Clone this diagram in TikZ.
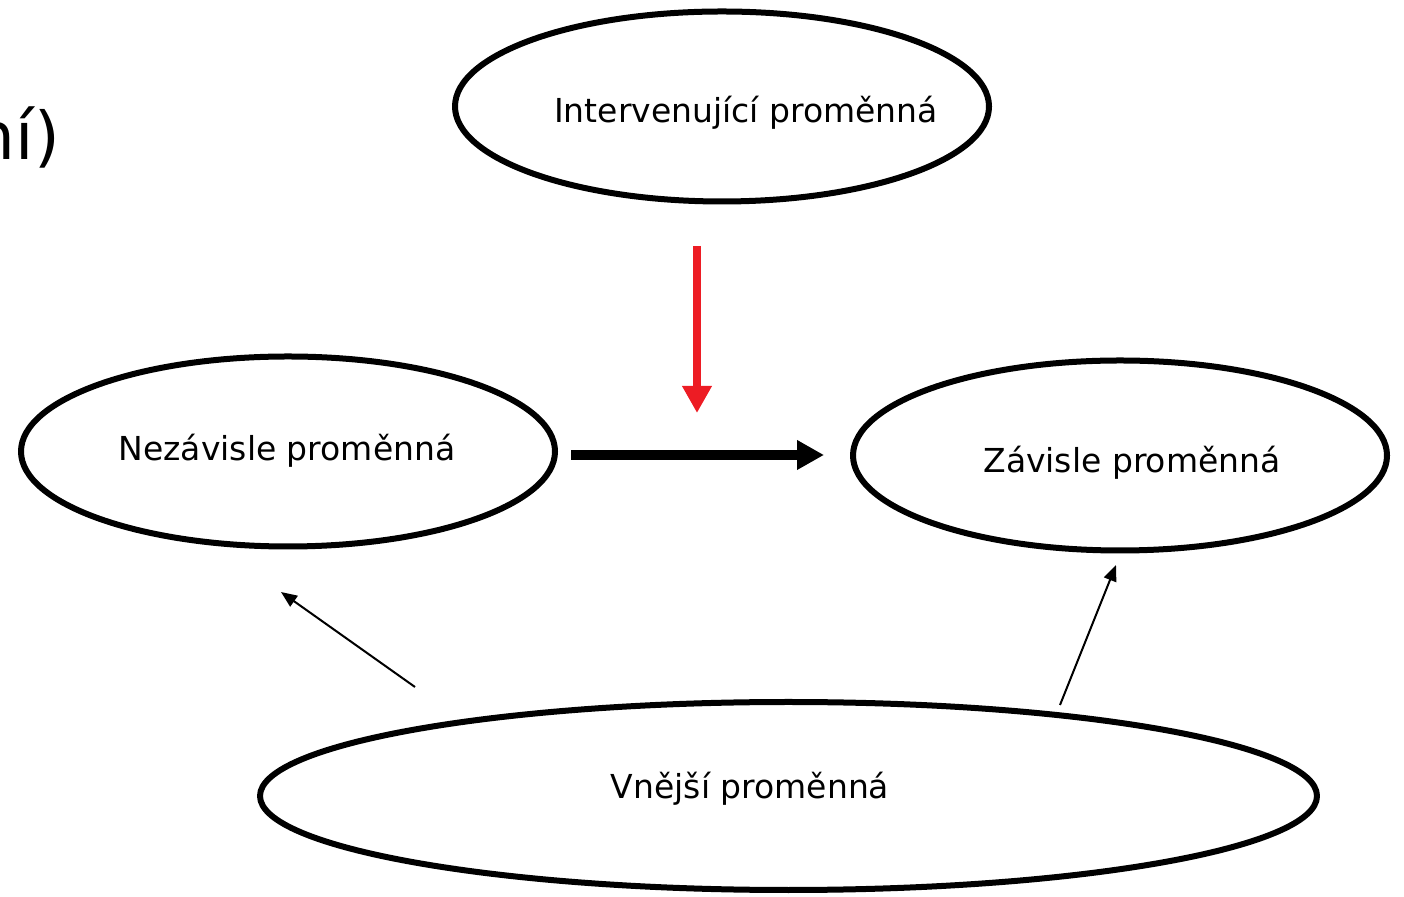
\documentclass[tikz,border=0pt]{standalone}
\usepackage{fontspec}
\setmainfont{DejaVu Sans}
\usepackage{xcolor}
\usepackage{tikz}
\usetikzlibrary{arrows.meta,shapes.geometric,positioning}
\definecolor{arrowred}{RGB}{237,28,36}

\begin{document}
\begin{tikzpicture}[line cap=butt,line join=round,x=1pt,y=1pt,
  oval/.style={draw,ellipse,line width=6pt,inner sep=0pt,minimum width=534pt,minimum height=190pt},
  lbl/.style={anchor=base,inner sep=0pt,font=\fontsize{33}{40}\selectfont},
  redarrow/.style={draw=arrowred,line width=8pt,-{Triangle[width=28pt,length=27pt]}},
  mainarrow/.style={line width=10pt,-{Triangle[width=28pt,length=27pt]}},
  sidearrow/.style={line width=2pt,-{Triangle[width=13pt,length=16pt]}}]
\useasboundingbox (0,0) rectangle (1404,896);
%\label{fig:promenne}
\node [anchor=base east,inner sep=0pt,font=\fontsize{66}{76}\selectfont] (title) at (60,736) {ní)};
\node [oval] (interv) at (722,789.5) {};
\node [oval] (nezav) at (288,444.5) {};
\node [oval] (zav) at (1120,440.5) {};
\node [oval,minimum width=1057pt,minimum height=188pt] (vnejsi) at (788.5,100) {};
\node [lbl] (intervtxt) at (746,773) {Intervenující proměnná};
\node [lbl] (nezavtxt) at (287,435) {Nezávisle proměnná};
\node [lbl] (zavtxt) at (1132,423) {Závisle proměnná};
\node [lbl] (vnejsitxt) at (750,97) {Vnější proměnná};
\coordinate (redtop) at (697,650);
\coordinate (redtip) at (697,483);
\coordinate (mainstart) at (571,441);
\coordinate (maintip) at (824,441);
\coordinate (leftstart) at (415,209);
\coordinate (lefttip) at (281,304);
\coordinate (rightstart) at (1060,191);
\coordinate (righttip) at (1116,331);
\draw [redarrow] (redtop) -- (redtip);
\draw [mainarrow] (mainstart) -- (maintip);
\draw [sidearrow] (leftstart) -- (lefttip);
\draw [sidearrow] (rightstart) -- (righttip);
\end{tikzpicture}
\end{document}
